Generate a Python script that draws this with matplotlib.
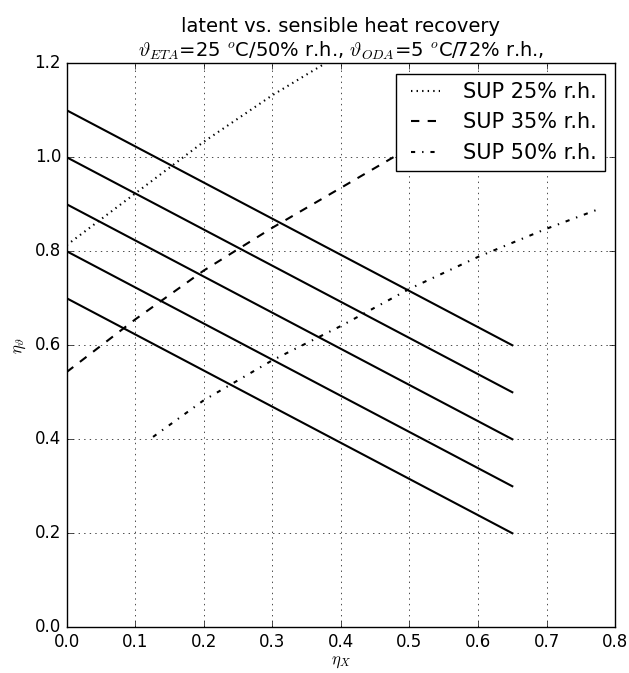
import matplotlib
matplotlib.use('Agg')
import matplotlib.pyplot as plt

plt.style.use('classic')

# parallel lines of constant total recovery
eta_x_lines = [0.0, 0.65]
line_starts = [1.1, 1.0, 0.9, 0.8, 0.7]
line_ends = [0.6, 0.5, 0.4, 0.3, 0.2]

# supply air curves
sup25_x = [0.0, 0.1, 0.2, 0.3, 0.4]
sup25_y = [0.813, 0.923, 1.033, 1.132, 1.22]
sup35_x = [0.0, 0.1, 0.2, 0.3, 0.4, 0.5, 0.6]
sup35_y = [0.543, 0.655, 0.759, 0.85, 0.935, 1.02, 1.1]
sup50_x = [0.126, 0.2, 0.3, 0.4, 0.5, 0.6, 0.7, 0.773]
sup50_y = [0.405, 0.483, 0.568, 0.641, 0.72, 0.788, 0.848, 0.888]

fig = plt.figure(figsize=(6.29, 6.73), dpi=100, facecolor='white')
ax = fig.add_subplot(111)
fig.subplots_adjust(left=0.106, right=0.978, bottom=0.068, top=0.906)

for y0, y1 in zip(line_starts, line_ends):
    ax.plot(eta_x_lines, [y0, y1], 'k-', lw=1.5)

ax.plot(sup25_x, sup25_y, 'k:', lw=1.5, label='SUP 25% r.h.')
ax.plot(sup35_x, sup35_y, 'k--', lw=1.5, label='SUP 35% r.h.')
ax.plot(sup50_x, sup50_y, 'k-.', lw=1.5, label='SUP 50% r.h.')

ax.set_xlim(0, 0.8)
ax.set_ylim(0, 1.2)
ax.grid(True)
ax.set_xlabel(r'$\eta_X$', labelpad=1)
ax.set_ylabel(r'$\eta_\vartheta$')
ax.set_title('latent vs. sensible heat recovery\n'
             r'$\vartheta_{ETA}$=25 $^o$C/50% r.h., $\vartheta_{ODA}$=5 $^o$C/72% r.h.,',
             fontsize=14)
ax.legend(loc='upper right', fontsize=15, handlelength=2.0)

fig.savefig('out.png', dpi=100, facecolor='white')
